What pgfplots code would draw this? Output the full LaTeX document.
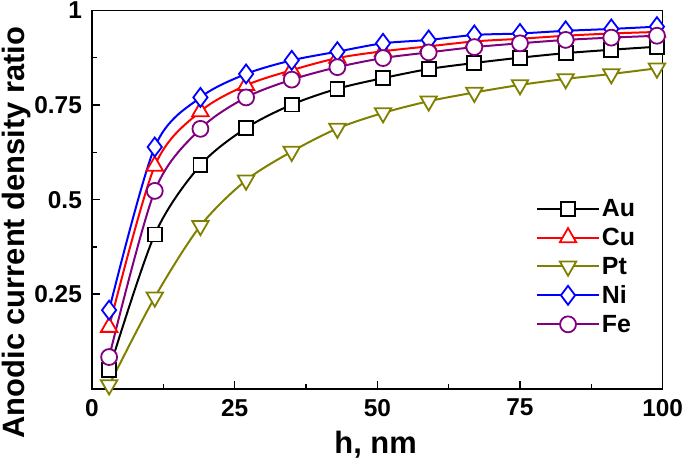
\documentclass[border=0pt]{standalone}
\usepackage{pgfplots}
\pgfplotsset{compat=1.18}
\usepackage{fontspec}
\setmainfont{Liberation Sans}
\definecolor{cAu}{RGB}{0,0,0}
\definecolor{cCu}{RGB}{255,0,0}
\definecolor{cPt}{RGB}{128,128,0}
\definecolor{cNi}{RGB}{0,0,255}
\definecolor{cFe}{RGB}{128,0,128}
\begin{document}
\begin{tikzpicture}
\begin{axis}[
  scale only axis,
  width=573pt, height=380pt,
  xmin=0, xmax=100, ymin=0, ymax=1,
  xtick={0,25,50,75,100},
  ytick={0.25,0.5,0.75,1},
  minor x tick num=1, minor y tick num=1,
  extra y ticks={0}, extra y tick labels={},
  xtick pos=bottom, ytick pos=left,
  tick align=inside,
  major tick length=8pt, minor tick length=5pt,
  every tick/.style={black, line width=1.6pt},
  axis line style={line width=1.6pt},
  /pgf/number format/assume math mode=true,
  ticklabel style={font=\bfseries\fontsize{24.5}{24.5}\selectfont, inner sep=2pt},
  xticklabel style={yshift=-8pt},
  yticklabel style={xshift=-8pt},
  label style={font=\bfseries\fontsize{31}{31}\selectfont, inner sep=2pt},
  xlabel={h, nm},
  ylabel={Anodic current density ratio},
  xlabel style={at={(axis description cs:0.497,0)}, anchor=base, yshift=-65pt},
  ylabel style={at={(axis description cs:-0.1325,0.413)}, anchor=center},
  clip=false,
  legend style={draw=none, fill=none, inner sep=0pt, row sep=6pt,
    at={(axis description cs:0.778,0.506)}, anchor=north west,
    font=\bfseries\fontsize{25}{25}\selectfont},
  legend cell align=left,
  legend image code/.code={%
    \draw[mark repeat=2,mark phase=2] plot coordinates {(0pt,0pt) (31pt,0pt) (62pt,0pt)};},
  every axis plot/.append style={line width=2pt},
]
\addplot[cAu, smooth, mark=square*, mark size=7pt, mark options={solid, fill=white, line width=1.8pt}] coordinates {
(3,0.05)(11,0.408)(19,0.591)(27,0.689)(35,0.751)(43,0.793)(51,0.821)(59,0.845)(67,0.861)(75,0.875)(83,0.887)(91,0.896)(99,0.904)};
\addlegendentry{Au}
\addplot[cCu, smooth, mark=triangle*, mark size=9.5pt, mark options={solid, fill=white, line width=1.8pt}] coordinates {
(3,0.163)(11,0.589)(19,0.733)(27,0.802)(35,0.842)(43,0.874)(51,0.892)(59,0.905)(67,0.918)(75,0.925)(83,0.933)(91,0.939)(99,0.943)};
\addlegendentry{Cu}
\addplot[cPt, smooth, mark=triangle*, mark size=9.5pt, mark options={solid, fill=white, line width=1.8pt, rotate=180}] coordinates {
(3,0.01)(11,0.242)(19,0.431)(27,0.551)(35,0.627)(43,0.688)(51,0.729)(59,0.760)(67,0.783)(75,0.803)(83,0.819)(91,0.832)(99,0.847)};
\addlegendentry{Pt}
\addplot[cNi, smooth, mark=diamond*, mark size=9.5pt, mark options={solid, fill=white, line width=1.8pt}] coordinates {
(3,0.208)(11,0.639)(19,0.770)(27,0.832)(35,0.868)(43,0.891)(51,0.913)(59,0.922)(67,0.935)(75,0.939)(83,0.946)(91,0.951)(99,0.957)};
\addlegendentry{Ni}
\addplot[cFe, smooth, mark=*, mark size=8pt, mark options={solid, fill=white, line width=1.8pt}] coordinates {
(3,0.084)(11,0.523)(19,0.687)(27,0.770)(35,0.817)(43,0.850)(51,0.874)(59,0.889)(67,0.903)(75,0.913)(83,0.922)(91,0.928)(99,0.933)};
\addlegendentry{Fe}
\end{axis}
\end{tikzpicture}
\end{document}
